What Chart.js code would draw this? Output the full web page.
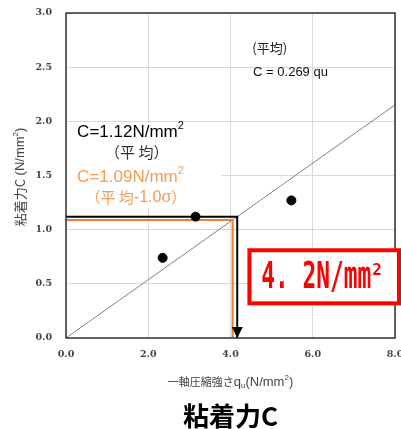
<!DOCTYPE html>
<html lang="ja">
<head>
<meta charset="UTF-8">
<meta name="viewport" content="width=device-width, initial-scale=1.0">
<title>粘着力C</title>
<script src="https://cdn.jsdelivr.net/npm/chart.js"></script>
<style>
  * { margin: 0; padding: 0; box-sizing: border-box; }
  body { background: #fff; }
  .wrap { width: 401px; height: 429px; }
</style>
</head>
<body>
<div class="wrap"><canvas id="cohesionChart"></canvas></div>

<script>
// 試験結果：一軸圧縮強さ qu と粘着力 C
const quValues = [2.35, 3.15, 5.48];
const cValues = [0.74, 1.12, 1.27];
const slope = 0.269;      // C = 0.269 qu（平均）
const cMean = 1.12;       // 平均
const cLow = 1.09;        // 平均-1.0σ
const xTicks = [0, 2, 4, 6, 8];
const yTicks = [0, 0.5, 1.0, 1.5, 2.0, 2.5, 3.0];

const JP = '"Noto Sans CJK JP", sans-serif';
const SANS = '"Liberation Sans", Arial, sans-serif';
const ORANGE = '#ed7d31';
const ORANGE_TXT = '#f39c55';

const qMean = cMean / slope;
const qLow = cLow / slope;

// 文字列を複数の書式でつなげて描く（上付き・下付き用）
function drawRuns(ctx, runs, x, y, align) {
    ctx.save();
    ctx.textBaseline = 'middle';
    ctx.textAlign = 'left';
    let total = 0;
    runs.forEach(r => { ctx.font = r.font; total += ctx.measureText(r.text).width + (r.gap || 0); });
    let cx = align === 'center' ? x - total / 2 : x;
    runs.forEach(r => {
        ctx.font = r.font;
        ctx.fillStyle = r.color;
        ctx.fillText(r.text, cx, y + (r.dy || 0));
        cx += ctx.measureText(r.text).width + (r.gap || 0);
    });
    ctx.restore();
}

const notes = {
    id: 'notes',
    beforeDatasetsDraw(chart) {
        const { ctx, scales: { x, y } } = chart;
        // 注記の背景
        ctx.save();
        ctx.fillStyle = '#fff';
        ctx.fillRect(x.getPixelForValue(0.03), y.getPixelForValue(1.985),
            x.getPixelForValue(3.78) - x.getPixelForValue(0.03),
            y.getPixelForValue(1.2) - y.getPixelForValue(1.985));
        ctx.restore();
    },
    afterDraw(chart) {
        const { ctx, chartArea: a, scales: { x, y } } = chart;

        // 枠
        ctx.save();
        ctx.strokeStyle = '#333';
        ctx.lineWidth = 1.5;
        ctx.strokeRect(a.left, a.top, a.right - a.left, a.bottom - a.top);

        // 矢印の先
        const ax = x.getPixelForValue(qMean);
        const ay = y.getPixelForValue(0);
        ctx.fillStyle = '#000';
        ctx.beginPath();
        ctx.moveTo(ax, ay);
        ctx.lineTo(ax - 5.5, ay - 11);
        ctx.lineTo(ax + 5.5, ay - 11);
        ctx.closePath();
        ctx.fill();
        ctx.restore();

        // 近似式
        drawRuns(ctx, [{ text: '(平均)', font: '13px ' + JP, color: '#222' }],
            x.getPixelForValue(4.53), y.getPixelForValue(2.68), 'left');
        drawRuns(ctx, [{ text: 'C = 0.269 qu', font: '13px ' + SANS, color: '#111' }],
            x.getPixelForValue(4.55), y.getPixelForValue(2.455), 'left');

        // 平均値・平均-1.0σ
        drawRuns(ctx, [
            { text: 'C=1.12N/mm', font: '17px ' + SANS, color: '#000' },
            { text: '2', font: '11px ' + SANS, color: '#000', dy: -6 }
        ], x.getPixelForValue(0.27), y.getPixelForValue(1.90), 'left');
        drawRuns(ctx, [{ text: '（平 均）', font: '15px ' + JP, color: '#333' }],
            x.getPixelForValue(1.72), y.getPixelForValue(1.71), 'center');
        drawRuns(ctx, [
            { text: 'C=1.09N/mm', font: '17px ' + SANS, color: ORANGE_TXT },
            { text: '2', font: '11px ' + SANS, color: ORANGE_TXT, dy: -6 }
        ], x.getPixelForValue(0.27), y.getPixelForValue(1.486), 'left');
        drawRuns(ctx, [
            { text: '（平 均', font: '15px ' + JP, color: ORANGE_TXT },
            { text: '-1.0σ', font: '16px ' + SANS, color: ORANGE_TXT },
            { text: '）', font: '15px ' + JP, color: ORANGE_TXT }
        ], x.getPixelForValue(1.70), y.getPixelForValue(1.30), 'center');

        // 読み取り値の枠
        const bl = x.getPixelForValue(4.46);
        const bt = y.getPixelForValue(0.81);
        const bb = y.getPixelForValue(0.32);
        const br = chart.width - 2;
        ctx.save();
        ctx.fillStyle = '#fff';
        ctx.fillRect(bl, bt, br - bl, bb - bt);
        ctx.strokeStyle = '#ff0000';
        ctx.lineWidth = 4;
        ctx.strokeRect(bl, bt, br - bl, bb - bt);

        const label = '4. 2N/mm';
        const tx = x.getPixelForValue(4.75);
        const ty = y.getPixelForValue(0.56);
        ctx.font = 'bold 38px "DejaVu Sans Mono", monospace';
        const sx = 110 / ctx.measureText(label).width;
        ctx.fillStyle = '#ff0000';
        ctx.textBaseline = 'middle';
        ctx.translate(tx, ty);
        ctx.scale(sx, 1);
        ctx.fillText(label, 0, 1);
        ctx.restore();
        ctx.save();
        ctx.font = 'bold 16px "DejaVu Sans Mono", monospace';
        ctx.fillStyle = '#ff0000';
        ctx.textBaseline = 'middle';
        ctx.fillText('2', tx + 111, ty - 6);
        ctx.restore();

        // 軸タイトル
        const midX = (a.left + a.right) / 2;
        drawRuns(ctx, [
            { text: '一軸圧縮強さ', font: '11px ' + JP, color: '#444' },
            { text: 'q', font: '13px ' + SANS, color: '#444' },
            { text: 'u', font: '8px ' + SANS, color: '#444', dy: 4 },
            { text: '(N/mm', font: '13px ' + SANS, color: '#444' },
            { text: '2', font: '8px ' + SANS, color: '#444', dy: -4 },
            { text: ')', font: '13px ' + SANS, color: '#444' }
        ], midX, 382, 'center');

        ctx.save();
        ctx.translate(20, 177);
        ctx.rotate(-Math.PI / 2);
        drawRuns(ctx, [
            { text: '粘着力C', font: '13px ' + JP, color: '#444' },
            { text: ' (N/mm', font: '13px ' + SANS, color: '#444' },
            { text: '2', font: '8px ' + SANS, color: '#444', dy: -4 },
            { text: ')', font: '13px ' + SANS, color: '#444' }
        ], 0, 0, 'center');
        ctx.restore();

        // 図タイトル
        drawRuns(ctx, [{ text: '粘着力C', font: 'bold 26px ' + JP, color: '#000' }], midX, 416, 'center');
    }
};

const tickFont = { family: '"DejaVu Serif", serif', size: 9.5, weight: 'bold' };

const ctx = document.getElementById('cohesionChart').getContext('2d');
new Chart(ctx, {
    type: 'scatter',
    data: {
        datasets: [{
            label: '試験値',
            data: quValues.map((q, i) => ({ x: q, y: cValues[i] })),
            backgroundColor: '#000',
            borderColor: '#000',
            pointRadius: 4.5,
            order: 0
        }, {
            label: '平均',
            data: [{ x: 0, y: cMean }, { x: qMean, y: cMean }, { x: qMean, y: 0 }],
            showLine: true,
            borderColor: '#000',
            borderWidth: 2,
            pointRadius: 0,
            order: 1
        }, {
            label: '平均-1.0σ',
            data: [{ x: 0, y: cLow }, { x: qLow, y: cLow }, { x: qLow, y: 0 }],
            showLine: true,
            borderColor: ORANGE,
            borderWidth: 2,
            pointRadius: 0,
            order: 2
        }, {
            label: 'C = 0.269 qu',
            data: [{ x: 0, y: 0 }, { x: xTicks[xTicks.length - 1], y: slope * xTicks[xTicks.length - 1] }],
            showLine: true,
            borderColor: '#808080',
            borderWidth: 1,
            pointRadius: 0,
            order: 3
        }]
    },
    options: {
        responsive: true,
        maintainAspectRatio: false,
        animation: false,
        layout: { padding: { top: 13, right: 6, left: 0, bottom: 0 } },
        plugins: { legend: { display: false }, tooltip: { enabled: false } },
        scales: {
            x: {
                type: 'linear',
                min: xTicks[0],
                max: xTicks[xTicks.length - 1],
                afterBuildTicks: s => { s.ticks = xTicks.map(v => ({ value: v })); },
                afterFit: s => { s.height = 91; s.paddingLeft = 0; s.paddingRight = 0; },
                grid: { color: '#d9d9d9', drawTicks: false },
                border: { display: false },
                ticks: {
                    padding: 11,
                    color: '#444',
                    font: tickFont,
                    callback: v => Number(v).toFixed(1)
                }
            },
            y: {
                min: yTicks[0],
                max: yTicks[yTicks.length - 1],
                afterBuildTicks: s => { s.ticks = yTicks.map(v => ({ value: v })); },
                afterFit: s => { s.width = 66; s.paddingTop = 0; s.paddingBottom = 0; },
                grid: { color: '#d9d9d9', drawTicks: false },
                border: { display: false },
                ticks: {
                    padding: 14,
                    color: '#444',
                    font: tickFont,
                    callback: v => Number(v).toFixed(1)
                }
            }
        }
    },
    plugins: [notes]
});
</script>
</body>
</html>
